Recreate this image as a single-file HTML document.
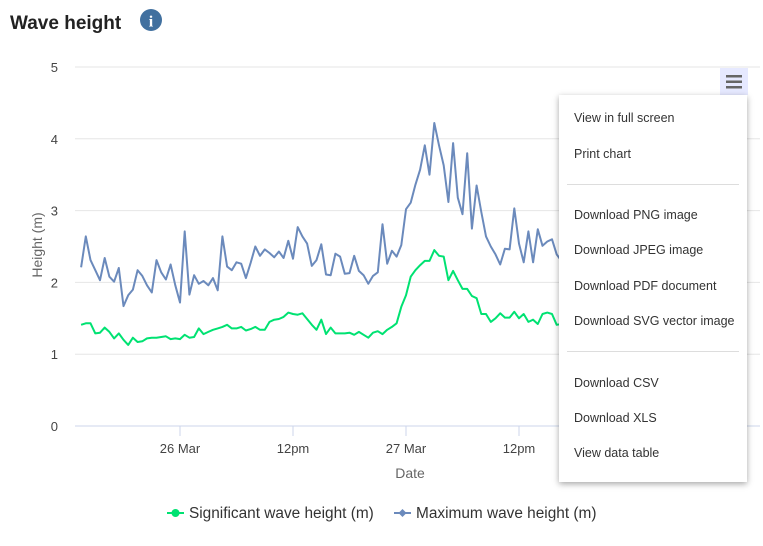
<!DOCTYPE html>
<html><head><meta charset="utf-8"><style>
body{margin:0;width:763px;height:546px;background:#fff;font-family:"Liberation Sans",sans-serif;overflow:hidden;position:relative}
.menu{position:absolute;left:559px;top:95px;width:188px;height:387px;background:#fff;box-shadow:0 2px 6px rgba(0,0,0,.35);font-size:12.5px;color:#333}
.mi{position:absolute;left:15px}
.sep{position:absolute;left:8px;right:8px;height:1px;background:#ddd}
</style></head><body>
<svg width="763" height="546" style="position:absolute;left:0;top:0" id="chart">
<text x="10" y="29" font-size="19" font-weight="bold" fill="#222">Wave height</text>
<g><circle cx="151" cy="20" r="11" fill="#41709f"/><text x="151" y="26.5" font-size="16" font-weight="bold" fill="#fff" text-anchor="middle" font-family="Liberation Serif,serif">i</text></g>
<g id="grid"></g><g id="series"></g>
<text transform="translate(42,245) rotate(-90)" font-size="14" fill="#666" text-anchor="middle">Height (m)</text>
<text x="410" y="478" font-size="14" fill="#666" text-anchor="middle">Date</text>
<g><line x1="167" y1="513" x2="184" y2="513" stroke="#00e272" stroke-width="2"/><circle cx="175.5" cy="513" r="4" fill="#00e272"/><text x="189" y="518" font-size="15.4" fill="#333">Significant wave height (m)</text></g>
<g><line x1="394" y1="513" x2="411" y2="513" stroke="#6b8abc" stroke-width="2"/><path d="M402.5 509 L406.5 513 L402.5 517 L398.5 513Z" fill="#6b8abc"/><text x="416" y="518" font-size="15.4" fill="#333">Maximum wave height (m)</text></g>
<g><rect x="720" y="68" width="28" height="27" fill="#e6e9ff"/><rect x="726" y="75" width="16" height="2.5" fill="#666"/><rect x="726" y="80.5" width="16" height="2.5" fill="#666"/><rect x="726" y="86" width="16" height="2.5" fill="#666"/></g>
</svg>
<div class="menu">
<div class="mi" style="top:16px">View in full screen</div>
<div class="mi" style="top:52px">Print chart</div>
<div class="sep" style="top:89px"></div>
<div class="mi" style="top:113px">Download PNG image</div>
<div class="mi" style="top:148px">Download JPEG image</div>
<div class="mi" style="top:184px">Download PDF document</div>
<div class="mi" style="top:219px">Download SVG vector image</div>
<div class="sep" style="top:256px"></div>
<div class="mi" style="top:281px">Download CSV</div>
<div class="mi" style="top:316px">Download XLS</div>
<div class="mi" style="top:351px">View data table</div>
</div>
<script>
const yTicks=[0,1,2,3,4,5];
const xTickHours=[24,36,48,60];
const xTickLabels=["26 Mar","12pm","27 Mar","12pm"];
const startHour=13.5, stepHours=0.5;
const maxWave=[2.21,2.64,2.31,2.17,2.03,2.34,2.08,2.01,2.20,1.67,1.82,1.90,2.17,2.09,1.96,1.86,2.31,2.14,2.04,2.25,1.96,1.72,2.71,1.83,2.10,1.98,2.02,1.96,2.06,1.89,2.64,2.22,2.17,2.28,2.26,2.06,2.27,2.50,2.37,2.46,2.41,2.35,2.43,2.34,2.58,2.33,2.77,2.64,2.54,2.23,2.31,2.53,2.11,2.10,2.40,2.36,2.12,2.13,2.37,2.16,2.10,1.98,2.09,2.14,2.81,2.26,2.44,2.36,2.52,3.02,3.11,3.36,3.57,3.91,3.50,4.22,3.91,3.63,3.12,3.94,3.18,2.95,3.80,2.75,3.35,2.98,2.64,2.50,2.39,2.25,2.47,2.46,3.03,2.54,2.28,2.71,2.28,2.74,2.51,2.57,2.60,2.39,2.30,2.40,2.50];
const sigWave=[1.41,1.43,1.43,1.29,1.30,1.37,1.31,1.22,1.29,1.20,1.13,1.23,1.17,1.18,1.22,1.23,1.23,1.24,1.25,1.21,1.22,1.21,1.27,1.23,1.24,1.36,1.28,1.31,1.34,1.36,1.38,1.41,1.36,1.36,1.38,1.33,1.35,1.38,1.34,1.34,1.45,1.48,1.49,1.52,1.58,1.56,1.55,1.57,1.49,1.41,1.34,1.48,1.28,1.37,1.29,1.29,1.29,1.30,1.27,1.31,1.27,1.23,1.30,1.32,1.28,1.34,1.38,1.43,1.66,1.82,2.08,2.17,2.24,2.30,2.30,2.45,2.37,2.36,2.03,2.16,2.03,1.91,1.91,1.81,1.78,1.56,1.56,1.45,1.50,1.57,1.51,1.51,1.59,1.50,1.56,1.45,1.48,1.42,1.56,1.58,1.56,1.41,1.42,1.45,1.44];
const NS="http://www.w3.org/2000/svg";
const yS=v=>426-v*71.8;
const xS=h=>180+(h-24)*113/12;
function mk(t,a,p){const e=document.createElementNS(NS,t);for(const k in a)e.setAttribute(k,a[k]);p.appendChild(e);return e;}
const grid=document.getElementById('grid');
yTicks.forEach(v=>{
  const l=mk('line',{x1:75,x2:760,y1:yS(v),y2:yS(v),stroke:v===0?'#ccd6eb':'#e6e6e6','stroke-width':1},grid);
  
  
  const t=mk('text',{x:58,y:yS(v)+5,'font-size':13,fill:'#444','text-anchor':'end'},grid);
  t.textContent=v;
  
  
});
xTickHours.forEach((h,i)=>{
  const tk=mk('line',{x1:xS(h),x2:xS(h),y1:426,y2:436,stroke:'#ccd6eb'},grid);
  
  
  const t=mk('text',{x:xS(h),y:453,'font-size':13,fill:'#444','text-anchor':'middle'},grid);
  t.textContent=xTickLabels[i];
  
  
});
const ser=document.getElementById('series');
function line(arr,color,name){
  const pts=arr.map((v,i)=>xS(startHour+i*stepHours).toFixed(1)+','+yS(v).toFixed(1)).join(' ');
  const p=mk('polyline',{points:pts,fill:'none',stroke:color,'stroke-width':2,'stroke-linejoin':'round'},ser);
  
  
}
line(maxWave,'#6b8abc','maximum-wave-line');
line(sigWave,'#00e272','significant-wave-line');
</script>
</body></html>
